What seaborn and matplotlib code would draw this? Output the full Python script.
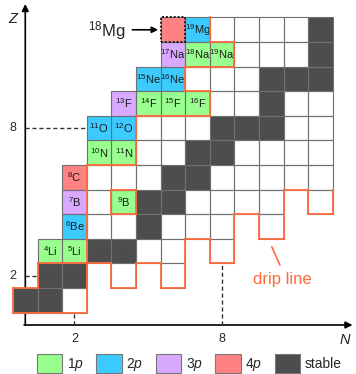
import matplotlib
matplotlib.use("Agg")
import matplotlib.pyplot as plt
import numpy as np
import pandas as pd
import seaborn as sns
from matplotlib.colors import ListedColormap
from matplotlib.patches import Patch, Rectangle

# element symbol -> proton number Z
elements = {"H": 1, "He": 2, "Li": 3, "Be": 4, "B": 5, "C": 6,
            "N": 7, "O": 8, "F": 9, "Ne": 10, "Na": 11, "Mg": 12}

stable = ["1H", "2H", "3He", "4He", "6Li", "7Li", "9Be", "10B", "11B",
          "12C", "13C", "14N", "15N", "16O", "17O", "18O", "19F",
          "20Ne", "21Ne", "22Ne", "23Na", "24Mg"]
bound = ["3H", "6He", "8He", "8Li", "9Li", "11Li",
         "7Be", "8Be", "10Be", "11Be", "12Be", "14Be",
         "8B", "12B", "13B", "14B", "15B", "17B",
         "9C", "10C", "11C", "14C", "15C", "16C", "17C", "18C",
         "12N", "13N", "16N", "17N", "18N", "19N",
         "13O", "14O", "15O", "19O", "20O",
         "17F", "18F", "20F", "21F",
         "17Ne", "18Ne", "19Ne",
         "20Na", "21Na", "22Na",
         "20Mg", "21Mg", "22Mg", "23Mg"]
emit_1p = ["4Li", "5Li", "9B", "10N", "11N", "14F", "15F", "16F", "18Na", "19Na"]
emit_2p = ["6Be", "11O", "12O", "15Ne", "16Ne", "19Mg"]
emit_3p = ["7B", "13F", "17Na"]
emit_4p = ["8C", "18Mg"]
highlight = "18Mg"  # labelled outside its cell

legend_labels = [r"1$p$", r"2$p$", r"3$p$", r"4$p$", "stable"]
colors = ["#ffffff", "#99ff8f", "#3ccbff", "#d9a8ff", "#ff8282", "#4d4d4d"]
orange = "#ff6a3c"

n_max = 12
z_max = 12
open_rows = range(6, 13)  # chart is cut at N=12, these chains go on


def split(nuc):
    a = int("".join(c for c in nuc if c.isdigit()))
    sym = "".join(c for c in nuc if c.isalpha())
    z = elements[sym]
    return a, sym, z, a - z


def label(nuc):
    a, sym, z, n = split(nuc)
    return r"$^{%d}$%s" % (a, sym)


sns.set_style("white")
plt.rcParams["font.family"] = ["Liberation Sans", "DejaVu Sans"]
plt.rcParams["mathtext.fontset"] = "custom"
plt.rcParams["mathtext.rm"] = "Liberation Sans"
plt.rcParams["mathtext.it"] = "Liberation Sans:italic"

groups = [(bound, 0), (emit_1p, 1), (emit_2p, 2), (emit_3p, 3), (emit_4p, 4), (stable, 5)]
grid = pd.DataFrame(np.nan, index=range(0, z_max + 1), columns=range(0, n_max + 1))
for names, code in groups:
    for nuc in names:
        a, sym, z, n = split(nuc)
        grid.loc[z, n] = code

fig = plt.figure(figsize=(3.56, 3.74), dpi=100)
ax = fig.add_axes([0, 0, 1, 1])
sns.heatmap(grid, ax=ax, cmap=ListedColormap(colors), vmin=-0.5, vmax=5.5,
            cbar=False, linewidths=0)
ax.set_xlim(-0.528, 13.943)
ax.set_ylim(-1.492, 13.711)
ax.axis("off")

# cell (N, Z) occupies [N, N+1] x [Z, Z+1] in heatmap coordinates
for (z, n), v in grid.stack().items():
    ax.add_patch(Rectangle((n, z), 1, 1, fill=False, ec="#707070", lw=0.8, zorder=2))

for names in [emit_1p, emit_2p, emit_3p, emit_4p]:
    for nuc in names:
        if nuc == highlight:
            continue
        a, sym, z, n = split(nuc)
        ax.text(n + 0.5, z + 0.5, label(nuc), ha="center", va="center",
                fontsize=8, color="#1a1a1a", zorder=3)

# drip line = border of the bound region
inside = set()
for nuc in stable + bound:
    a, sym, z, n = split(nuc)
    inside.add((z, n))
for z, n in inside:
    for dz, dn, seg in [(1, 0, ([n, n + 1], [z + 1, z + 1])),
                        (-1, 0, ([n, n + 1], [z, z])),
                        (0, 1, ([n + 1, n + 1], [z, z + 1])),
                        (0, -1, ([n, n], [z, z + 1]))]:
        zz, nn = z + dz, n + dn
        if (zz, nn) in inside or zz > z_max:
            continue
        if nn > n_max and zz in open_rows:
            continue
        ax.plot(seg[0], seg[1], color=orange, lw=1.3,
                solid_capstyle="projecting", zorder=4)

# dotted frame around 18Mg
a, sym, z, n = split(highlight)
ax.add_patch(Rectangle((n, z), 1, 1, fill=False, ls=(0, (1, 1)), lw=1.4,
                       ec="#1a1a1a", zorder=5))
ax.text(3.82, 12.45, label(highlight), ha="center", va="center", fontsize=12)
ax.annotate("", xy=(n - 0.1, z + 0.5), xytext=(4.85, z + 0.5),
            arrowprops=dict(arrowstyle="-|>", color="black", lw=1.2,
                            mutation_scale=9, shrinkA=0, shrinkB=0))

# axes with arrows, behind the cells
ax.annotate("", xy=(0.5, 13.55), xytext=(0.5, 0.5), zorder=0.5,
            arrowprops=dict(arrowstyle="-|>", color="black", lw=1.2,
                            mutation_scale=10, shrinkA=0, shrinkB=0))
ax.annotate("", xy=(13.8, 0.5), xytext=(0.45, 0.5), zorder=0.5,
            arrowprops=dict(arrowstyle="-|>", color="black", lw=1.2,
                            mutation_scale=10, shrinkA=0, shrinkB=0))
ax.text(-0.02, 12.95, "Z", style="italic", fontsize=10.5, ha="center", va="center")
ax.text(13.5, -0.1, "N", style="italic", fontsize=10.5, ha="center", va="center")

# magic-number guides
dash = (0, (3, 2))
ax.plot([0.5, 3], [8.5, 8.5], color="#333333", lw=1, ls=dash, zorder=0.6)
ax.plot([0.5, 1], [2.5, 2.5], color="#333333", lw=1, ls=dash, zorder=0.6)
ax.plot([2.5, 2.5], [0.5, 1], color="#333333", lw=1, ls=dash, zorder=0.6)
ax.plot([8.5, 8.5], [0.5, 3], color="#333333", lw=1, ls=dash, zorder=0.6)
for z in [2, 8]:
    ax.text(-0.02, z + 0.5, str(z), ha="center", va="center", fontsize=9)
for n in [2, 8]:
    ax.text(n + 0.5, -0.07, str(n), ha="center", va="center", fontsize=9)

ax.text(10.93, 2.33, "drip line", color=orange, ha="center", va="center", fontsize=12)
ax.plot([10.52, 10.85], [3.68, 2.94], color=orange, lw=1.2)

handles = [Patch(facecolor=c, edgecolor="#777777", lw=0.8) for c in colors[1:]]
ax.legend(handles, legend_labels, ncol=5, loc="lower left",
          bbox_to_anchor=(37 / 356, 1 / 374), borderaxespad=0, borderpad=0,
          frameon=False, fontsize=10, handlelength=1.83, handleheight=1.63,
          handletextpad=0.3, columnspacing=0.93)

fig.savefig("out.png", dpi=100)
